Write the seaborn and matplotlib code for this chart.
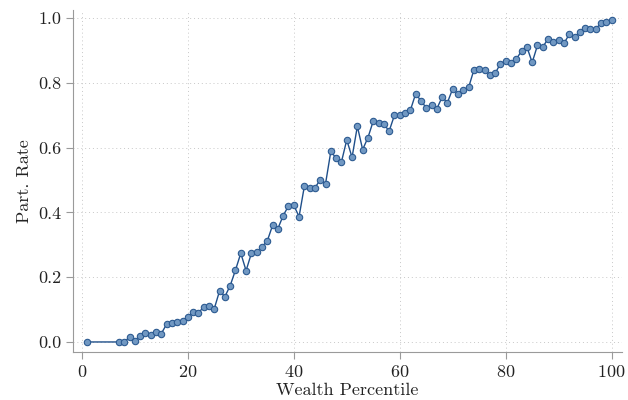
import numpy as np
import pandas as pd
import matplotlib
matplotlib.use("Agg")
import matplotlib.pyplot as plt
import seaborn as sns

# wealth percentile vs participation rate
percentile = [1, 7, 8, 9, 10, 11, 12, 13, 14, 15, 16, 17, 18, 19, 20,
              21, 22, 23, 24, 25, 26, 27, 28, 29, 30, 31, 32, 33, 34, 35,
              36, 37, 38, 39, 40, 41, 42, 43, 44, 45, 46, 47, 48, 49, 50,
              51, 52, 53, 54, 55, 56, 57, 58, 59, 60, 61, 62, 63, 64, 65,
              66, 67, 68, 69, 70, 71, 72, 73, 74, 75, 76, 77, 78, 79, 80,
              81, 82, 83, 84, 85, 86, 87, 88, 89, 90, 91, 92, 93, 94, 95,
              96, 97, 98, 99, 100]
part_rate = [0.0, 0.0, 0.0, 0.015, 0.004, 0.019, 0.027, 0.022, 0.030, 0.026,
             0.055, 0.060, 0.062, 0.064, 0.077,
             0.092, 0.089, 0.109, 0.112, 0.103, 0.158, 0.140, 0.174, 0.222, 0.274,
             0.220, 0.274, 0.277, 0.294, 0.312, 0.360, 0.350, 0.390, 0.420, 0.422,
             0.387, 0.481, 0.476, 0.476, 0.501, 0.489, 0.589, 0.567, 0.556, 0.624,
             0.570, 0.666, 0.594, 0.631, 0.682, 0.675, 0.673, 0.651, 0.700, 0.702,
             0.708, 0.715, 0.766, 0.745, 0.723, 0.732, 0.720, 0.756, 0.739, 0.782,
             0.765, 0.778, 0.786, 0.840, 0.843, 0.840, 0.825, 0.829, 0.859, 0.868,
             0.861, 0.873, 0.899, 0.911, 0.863, 0.916, 0.911, 0.936, 0.926, 0.933,
             0.922, 0.950, 0.942, 0.957, 0.969, 0.967, 0.966, 0.985, 0.987, 0.994]

df = pd.DataFrame({"pct": percentile, "rate": part_rate})

sns.set_style("ticks")
plt.rcParams["font.family"] = "serif"
plt.rcParams["font.serif"] = ["cmr10", "DejaVu Serif"]
plt.rcParams["axes.formatter.use_mathtext"] = True
plt.rcParams["mathtext.fontset"] = "cm"

fig = plt.figure(figsize=(6.28, 4.0), dpi=100)
ax = fig.add_axes([0.116, 0.12, 0.874, 0.855])

sns.lineplot(data=df, x="pct", y="rate", ax=ax, color="#1f4f8a", linewidth=1.0,
             marker="o", markersize=4.6, markerfacecolor="#7198c2",
             markeredgecolor="#2c5a91", markeredgewidth=0.8)

ax.set_xlim(-1.7, 101.9)
ax.set_ylim(-0.031, 1.025)
ax.set_xticks([0, 20, 40, 60, 80, 100])
ax.set_yticks([0.0, 0.2, 0.4, 0.6, 0.8, 1.0])
ax.set_yticklabels(["0.0", "0.2", "0.4", "0.6", "0.8", "1.0"])
ax.grid(True, linestyle=(0, (1, 3)), color="#c8c8c8", linewidth=0.7)
ax.set_axisbelow(True)

for s in ["top", "right"]:
    ax.spines[s].set_visible(False)
for s in ["left", "bottom"]:
    ax.spines[s].set_color("#9a9a9a")
ax.tick_params(colors="#9a9a9a", labelcolor="#222222", labelsize=13, length=5)

ax.set_xlabel("Wealth Percentile", fontsize=13, color="#222222", labelpad=2)
ax.set_ylabel("Part. Rate", fontsize=13, color="#222222")

fig.savefig("out.png", dpi=100)
